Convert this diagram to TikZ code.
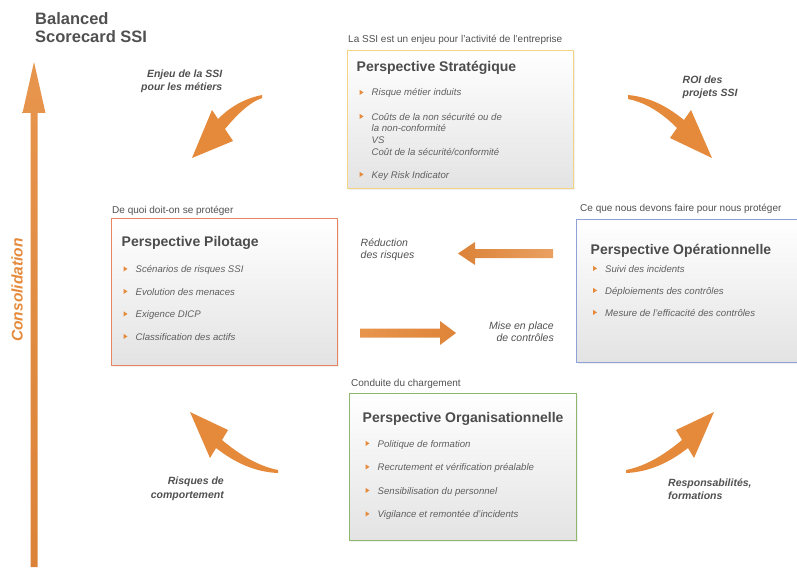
\documentclass[tikz,border=0pt]{standalone}
\usepackage{fontspec}
\setmainfont{Liberation Sans}
\usetikzlibrary{shadows}

\definecolor{ssiorange}{RGB}{229,137,58}
\definecolor{ssibrown}{RGB}{160,92,44}
\definecolor{ssigray}{RGB}{80,80,80}
\definecolor{ssitext}{RGB}{95,95,95}
\definecolor{stratcol}{RGB}{242,212,130}
\definecolor{pilotcol}{RGB}{232,132,95}
\definecolor{opercol}{RGB}{142,162,217}
\definecolor{orgacol}{RGB}{141,184,106}

\tikzset{
  persp/.style={draw=#1, line width=1.3pt, top color=white, bottom color=black!11,
    anchor=north west, inner sep=0pt,
    drop shadow={opacity=0.12, shadow xshift=1.5pt, shadow yshift=-1.5pt}},
  caption/.style={anchor=base west, inner sep=0pt, text=ssigray,
    font=\fontsize{10}{12}\selectfont},
  ptitle/.style={anchor=base west, inner sep=0pt, text=ssigray!95!black,
    font=\fontsize{14}{16}\selectfont\bfseries},
  item/.style={anchor=base west, inner sep=0pt, align=left, text=ssitext,
    font=\fontsize{9.6}{11.8}\selectfont\itshape},
  flow/.style={inner sep=0pt, text=ssigray,
    font=\fontsize{10.5}{13.5}\selectfont\bfseries\itshape},
  hflow/.style={inner sep=0pt, text=ssigray,
    font=\fontsize{10.5}{12}\selectfont\itshape}
}
\newcommand\ssibullet[1]{\fill[ssiorange] ([xshift=-12pt,yshift=6.2pt]#1.base west)
  -- ++(4pt,-2.6pt) -- ++(-4pt,-2.6pt) -- cycle;}

\begin{document}
\begin{tikzpicture}[x=1pt,y=-1pt]
\useasboundingbox (0,0) rectangle (797,567);
\clip (0,0) rectangle (797,567);

% titre et axe de consolidation
\node[anchor=base west, align=left, inner sep=0pt, text=ssigray,
  font=\fontsize{16.5}{18}\selectfont\bfseries] (title) at (35,43) {Balanced\\Scorecard SSI};
\shade[top color=ssiorange!90!white, bottom color=ssiorange!85!ssibrown]
  (30.5,567) -- (30.5,113) -- (22.5,113) -- (34,62) -- (45.5,113) -- (37.5,113) -- (37.5,567) -- cycle;
\node[rotate=90, inner sep=0pt, text=ssiorange,
  font=\fontsize{15.5}{17}\selectfont\bfseries\itshape] (consol) at (17,290) {Consolidation};

% les quatre perspectives
\node[persp=stratcol, minimum width=226, minimum height=138] (strat) at (347,50) {};
\node[persp=pilotcol, minimum width=226, minimum height=147] (pilot) at (111,218) {};
\node[persp=opercol, minimum width=240, minimum height=143] (oper) at (576,219) {};
\node[persp=orgacol, minimum width=227, minimum height=147] (orga) at (349,393) {};

\node[caption] (strat-cap) at (348,43) {La SSI est un enjeu pour l'activité de l'entreprise};
\node[caption] (pilot-cap) at (112,213) {De quoi doit-on se protéger};
\node[caption] (oper-cap) at (580,211) {Ce que nous devons faire pour nous protéger};
\node[caption] (orga-cap) at (351,386) {Conduite du chargement};

\node[ptitle] (strat-t) at (356.5,72) {Perspective Stratégique};
\node[ptitle] (pilot-t) at (121.5,246) {Perspective Pilotage};
\node[ptitle] (oper-t) at (590.5,254) {Perspective Opérationnelle};
\node[ptitle] (orga-t) at (362.5,422) {Perspective Organisationnelle};

% points de chaque perspective
\node[item] (strat-1) at (371.5,96) {Risque métier induits};
\node[item] (strat-2) at (371.5,155.5) {Coûts de la non sécurité ou de\\la non-conformité\\VS\\Coût de la sécurité/conformité};
\node[item] (strat-3) at (371.5,178) {Key Risk Indicator};
\ssibullet{strat-1}
\fill[ssiorange] (359.5,113.8) -- ++(4,2.6) -- ++(-4,2.6) -- cycle;
\ssibullet{strat-3}

\foreach \txt [count=\i] in {Scénarios de risques SSI, Evolution des menaces,
    Exigence DICP, Classification des actifs}{
  \node[item] (pilot-\i) at (135.5,{272.5+22.5*(\i-1)}) {\txt};
  \ssibullet{pilot-\i}
}

\foreach \txt [count=\i] in {Suivi des incidents, Déploiements des contrôles,
    Mesure de l'efficacité des contrôles}{
  \node[item] (oper-\i) at (605,{272+22*(\i-1)}) {\txt};
  \ssibullet{oper-\i}
}

\foreach \txt [count=\i] in {Politique de formation, Recrutement et vérification préalable,
    Sensibilisation du personnel, Vigilance et remontée d'incidents}{
  \node[item] (orga-\i) at (377.5,{447+23.5*(\i-1)}) {\txt};
  \ssibullet{orga-\i}
}

% fleches courbes entre les perspectives
\fill[ssiorange] (262,95) .. controls (242,99) and (228,109) .. (218,119) -- (212,110)
  -- (192,158) -- (233,141) -- (225,129) .. controls (235,117) and (248,103) .. (262,98) -- cycle;
\fill[ssiorange] (628,95) .. controls (650,97) and (668,107) .. (684,120) -- (691,110)
  -- (712,158) -- (670,138) -- (677,128) .. controls (664,115) and (648,103) .. (628,99) -- cycle;
\fill[ssiorange] (278,470) .. controls (258,466) and (240,455) .. (222,440) -- (228,430)
  -- (190,412) -- (210,458) -- (216,448) .. controls (234,462) and (254,472) .. (278,473) -- cycle;
\fill[ssiorange] (626,470) .. controls (646,466) and (664,455) .. (682,440) -- (676,430)
  -- (714,412) -- (694,458) -- (688,448) .. controls (670,462) and (650,472) .. (626,473) -- cycle;

\node[flow, anchor=base east, align=right] (enjeu) at (222.5,91) {Enjeu de la SSI\\pour les métiers};
\node[flow, anchor=base west, align=left] (roi) at (682.5,97) {ROI des\\projets SSI};
\node[flow, anchor=base east, align=right] (risques) at (224,498) {Risques de\\comportement};
\node[flow, anchor=base west, align=left] (resp) at (668,499.5) {Responsabilités,\\formations};

% fleches horizontales
\shade[left color=ssiorange!85!ssibrown, middle color=ssibrown!90!ssiorange, right color=ssiorange!80!white]
  (553,249) -- (475,249) -- (475,242) -- (458,253.5) -- (475,265) -- (475,258) -- (553,258) -- cycle;
\shade[left color=ssiorange!90!white, middle color=ssibrown!90!ssiorange, right color=ssiorange!90!ssibrown]
  (360,328.5) -- (440,328.5) -- (440,321) -- (456,333) -- (440,345) -- (440,337.5) -- (360,337.5) -- cycle;

\node[hflow, anchor=base west, align=left] (reduc) at (360.5,258.5) {Réduction\\des risques};
\node[hflow, anchor=base east, align=right] (mise) at (554,341) {Mise en place\\de contrôles};
\end{tikzpicture}
\end{document}
